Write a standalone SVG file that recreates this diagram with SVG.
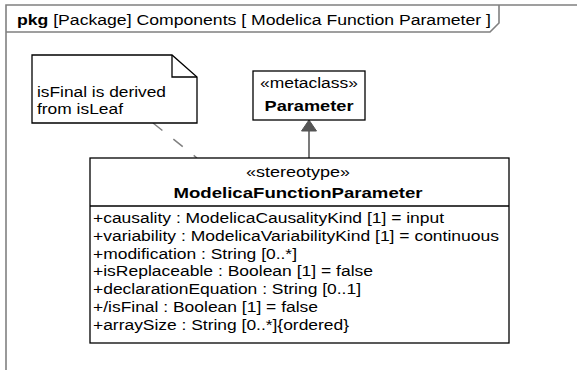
<svg xmlns="http://www.w3.org/2000/svg" width="577" height="370" viewBox="0 0 577 370">
<style>
text{font-family:"Liberation Sans",Arial,sans-serif;font-size:14px;fill:#000}
.b{font-weight:bold}
.c{text-anchor:middle}
.box{fill:#fff;stroke:#000;stroke-width:1.3}
.frame{fill:none;stroke:#808080;stroke-width:1.6}
</style>
<rect width="577" height="370" fill="#fff"/>
<g id="frame">
<path class="frame" d="M6,370 V5 H577"/>
<path class="frame" d="M6,32 H490 L499,23 V5"/>
<text x="17" y="25" textLength="474" lengthAdjust="spacingAndGlyphs"><tspan class="b">pkg</tspan> [Package] Components [ Modelica Function Parameter ]</text>
</g>
<g id="connectors">
<line x1="153" y1="123" x2="197" y2="158" stroke="#808080" stroke-width="1.5" stroke-dasharray="12 14"/>
<line x1="309" y1="131" x2="309" y2="158" stroke="#333" stroke-width="1.3"/>
<polygon points="309,120 301.5,131 316.5,131" fill="#555" stroke="#555" stroke-width="1"/>
</g>
<g id="note">
<path class="box" d="M32,55 H172 L197,77 V123 H32 Z"/>
<path fill="none" stroke="#000" stroke-width="1.3" d="M172,55 V77 H197"/>
<text x="37" y="97" textLength="129" lengthAdjust="spacingAndGlyphs">isFinal is derived</text>
<text x="37" y="114" textLength="86" lengthAdjust="spacingAndGlyphs">from isLeaf</text>
</g>
<g id="parameter">
<rect class="box" x="253" y="71" width="112" height="49"/>
<text class="c" x="309" y="88" textLength="98" lengthAdjust="spacingAndGlyphs">«metaclass»</text>
<text class="c b" x="309" y="111" textLength="89" lengthAdjust="spacingAndGlyphs">Parameter</text>
</g>
<g id="modelicaFunctionParameter">
<rect class="box" x="90" y="158" width="419" height="185"/>
<line x1="90" y1="206" x2="509" y2="206" stroke="#000" stroke-width="1.3"/>
<text class="c" x="298" y="177" textLength="104" lengthAdjust="spacingAndGlyphs">«stereotype»</text>
<text class="c b" x="298" y="198" textLength="249" lengthAdjust="spacingAndGlyphs">ModelicaFunctionParameter</text>
<text x="93" y="223" textLength="351" lengthAdjust="spacingAndGlyphs">+causality : ModelicaCausalityKind [1] = input</text>
<text x="93" y="240.8" textLength="406" lengthAdjust="spacingAndGlyphs">+variability : ModelicaVariabilityKind [1] = continuous</text>
<text x="93" y="258.6" textLength="204" lengthAdjust="spacingAndGlyphs">+modification : String [0..*]</text>
<text x="93" y="276.4" textLength="280" lengthAdjust="spacingAndGlyphs">+isReplaceable : Boolean [1] = false</text>
<text x="93" y="294.2" textLength="268" lengthAdjust="spacingAndGlyphs">+declarationEquation : String [0..1]</text>
<text x="93" y="312" textLength="225" lengthAdjust="spacingAndGlyphs">+/isFinal : Boolean [1] = false</text>
<text x="93" y="329.8" textLength="256" lengthAdjust="spacingAndGlyphs">+arraySize : String [0..*]{ordered}</text>
</g>
</svg>
